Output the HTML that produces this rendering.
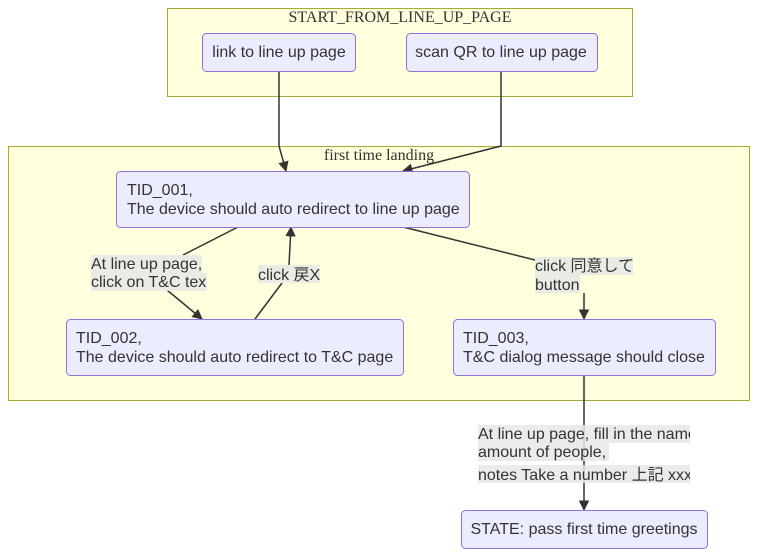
<!DOCTYPE html>
<html><head><style>body{margin:0;background:#fff}svg{display:block}text{font-family:"Liberation Sans","Noto Sans CJK JP",sans-serif;font-size:16px;fill:#333}</style></head>
<body>
<svg width="758" height="556" viewBox="0 0 758 556">
<defs><marker id="a" viewBox="0 0 10 10" refX="9" refY="5" markerWidth="7" markerHeight="7" orient="auto"><path d="M0,0L10,5L0,10z" fill="#333"/></marker></defs>
<rect x="167.5" y="8.5" width="465" height="88" fill="#ffffde" stroke="#aaaa33"/>
<rect x="8.5" y="146.5" width="741" height="254" fill="#ffffde" stroke="#aaaa33"/>
<text x="400" y="22" text-anchor="middle" style="font-family:'Liberation Serif',serif">START_FROM_LINE_UP_PAGE</text>
<text x="379" y="160" text-anchor="middle" style="font-family:'Liberation Serif',serif">first time landing</text>
<g fill="none" stroke="#333" stroke-width="1.5">
<path d="M279,71V146L286,171" marker-end="url(#a)"/>
<path d="M501,71V146L403,171" marker-end="url(#a)"/>
<path d="M238,227L183,255M167,290L202,319" marker-end="url(#a)"/>
<path d="M255,319L282,283M289,265L291,227" marker-end="url(#a)"/>
<path d="M403,227L535,260M584,293V319" marker-end="url(#a)"/>
<path d="M584,375V510" marker-end="url(#a)"/>
</g>
<g fill="#ececff" stroke="#9370db">
<rect x="202.5" y="33.5" width="153" height="38" rx="4"/>
<rect x="406.5" y="33.5" width="191" height="38" rx="4"/>
<rect x="116.5" y="171.5" width="353" height="56" rx="4"/>
<rect x="66.5" y="319.5" width="337" height="56" rx="4"/>
<rect x="453.5" y="319.5" width="262" height="56" rx="4"/>
<rect x="461.5" y="510.5" width="246" height="38" rx="4"/>
</g>
<text x="279" y="57" text-anchor="middle">link to line up page</text>
<text x="501" y="57" text-anchor="middle">scan QR to line up page</text>
<text x="127" y="195">TID_001,</text><text x="127" y="214">The device should auto redirect to line up page</text>
<text x="76" y="343">TID_002,</text><text x="76" y="362">The device should auto redirect to T&amp;C page</text>
<text x="463" y="343">TID_003,</text><text x="463" y="362">T&amp;C dialog message should close</text>
<text x="584" y="534" text-anchor="middle">STATE: pass first time greetings</text>
<g fill="rgba(232,232,232,0.85)">
<rect x="91" y="255" width="111" height="18"/><rect x="91" y="273" width="116" height="18"/>
<rect x="258" y="265" width="62" height="18"/>
<rect x="535" y="257" width="98" height="18"/><rect x="535" y="275" width="45" height="18"/>
<rect x="478" y="425" width="212" height="18"/><rect x="478" y="443" width="131" height="18"/><rect x="478" y="465" width="212" height="18"/>
</g>
<text x="91" y="269">At line up page,</text><text x="91" y="287">click on T&amp;C tex</text>
<text x="258" y="280">click 戻X</text>
<text x="535" y="271">click 同意して</text><text x="535" y="290">button</text>
<svg x="478" y="420" width="212" height="70"><text x="0" y="19">At line up page, fill in the name</text><text x="0" y="37">amount of people,</text><text x="0" y="60">notes Take a number 上記 xxx</text></svg>
</svg>
</body></html>
